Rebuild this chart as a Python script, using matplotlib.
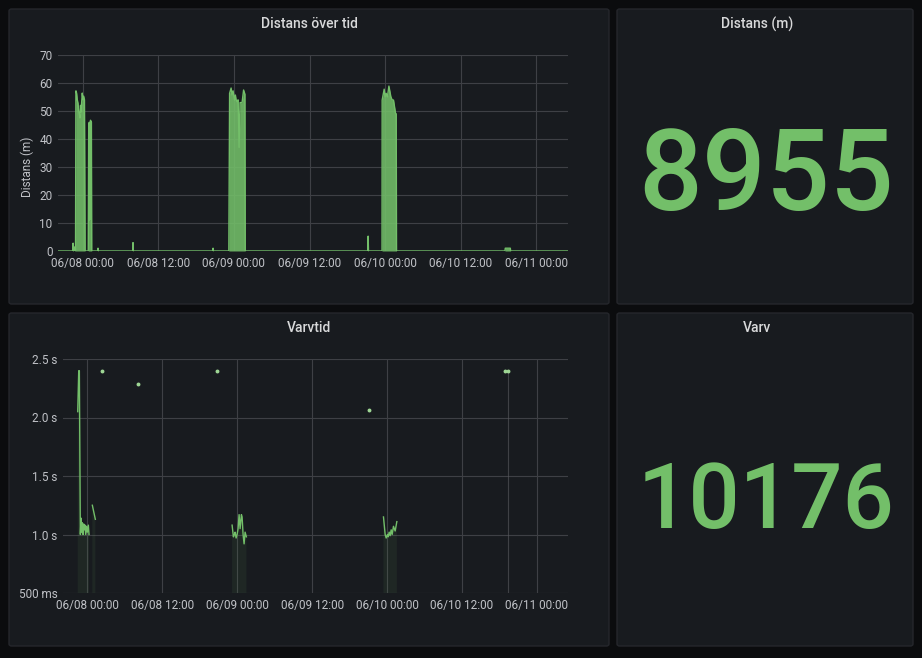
import numpy as np
import matplotlib
matplotlib.use('Agg')
import matplotlib.pyplot as plt
import matplotlib.dates as mdates
from matplotlib.patches import FancyBboxPatch
import datetime as dt

plt.rcParams['font.family'] = ['Roboto', 'DejaVu Sans']

W, H = 922, 658

# ---- data (hours relative to 06/08 00:00) ----
dist_hours = [-3.9, -1.56, -1.50, -1.44, -1.25, -1.20, -1.12,
              -1.06, -0.95, -0.84, -0.73, -0.62, -0.52, -0.41, -0.33, -0.25, -0.15,
              -0.05, 0.06, 0.17, 0.30, 0.40,
              0.90, 0.97, 1.07, 1.12, 1.20, 1.25, 1.40, 1.45,
              2.40, 2.45, 2.50, 7.95, 8.00, 8.05, 20.65, 20.70, 20.75,
              23.20, 23.32, 23.56, 23.71, 23.87, 24.11, 24.24, 24.35, 24.51, 24.67,
              24.83, 24.98, 25.14, 25.30, 25.54, 25.75, 25.80,
              45.25, 45.30, 45.35,
              47.50, 47.52, 47.84, 48.00, 48.16, 48.35, 48.59, 48.90, 49.10, 49.32,
              49.64, 49.75, 49.80,
              67.00, 67.05, 67.85, 67.90, 77.0]
dist_values = [0, 0, 2.8, 0, 0, 1.5, 0,
               57.2, 56.4, 54, 52.8, 50, 49, 47.5, 52, 49.6, 53,
               56.4, 54, 55.3, 54, 0,
               0, 45, 46, 11, 11, 46.7, 46, 0,
               0, 1, 0, 0, 3, 0, 0, 1, 0,
               0, 56.3, 58.2, 55.7, 57.2, 53.9, 55.7, 54, 53.3, 54,
               37, 53, 53, 53, 57.5, 56, 0,
               0, 5.3, 0,
               0, 53.9, 57.8, 55, 56.3, 55, 58.9, 55.1, 54, 53.9,
               49.2, 49, 0,
               0, 1.0, 1.0, 0, 0]

lap_hours = [-1.54, -1.38, -1.28, -1.12, -1.01, -0.90, -0.80, -0.69, -0.58, -0.48,
             -0.37, -0.26, -0.13, 0.0, 0.16, 0.27, 0.5,
             0.80, 1.28, 1.5,
             23.19, 23.40, 23.56, 23.67, 23.83, 23.99, 24.15, 24.31, 24.47, 24.68,
             24.79, 24.95, 25.11, 25.27, 25.48, 25.7,
             47.44, 47.71, 47.87, 48.08, 48.19, 48.35, 48.51, 48.67, 48.83, 49.04,
             49.31, 49.58]
lap_values = [2.05, 2.40, 2.40, 1.00, 1.14, 1.02, 1.10, 1.00, 1.09, 1.04,
              1.08, 1.00, 1.07, 1.02, 1.08, 1.00, np.nan,
              1.25, 1.13, np.nan,
              1.08, 0.98, 1.00, 1.02, 0.97, 1.00, 1.05, 1.17, 1.05, 1.17,
              1.15, 1.00, 0.92, 1.02, 0.98, np.nan,
              1.15, 1.00, 0.97, 1.00, 0.98, 1.02, 0.99, 1.04, 1.00, 1.07,
              1.03, 1.11]

dot_hours = [2.36, 8.08, 20.79, 45.10, 66.90, 67.40]
dot_values = [2.40, 2.29, 2.40, 2.06, 2.40, 2.40]

stat_distance = '8955'
stat_laps = '10176'

x_ticks_fmt = '%m/%d %H:%M'
dist_yticks = [0, 10, 20, 30, 40, 50, 60, 70]
lap_yticks = [0.5, 1.0, 1.5, 2.0, 2.5]
lap_ylabels = ['500 ms', '1.0 s', '1.5 s', '2.0 s', '2.5 s']

# ---- style ----
BG = '#0b0c0e'
PANEL = '#181b1f'
BORDER = '#25272c'
GRID = '#3e4045'
TXT = '#c0c2c7'
TITLE = '#d8d9da'
GREEN = '#73bf69'

base = mdates.date2num(dt.datetime(2021, 6, 8))
to_num = lambda hrs: base + np.asarray(hrs, dtype=float) / 24.0
xlim = (to_num(-3.9), to_num(77.0))


def fx(x):
    return x / W


def fy(y):
    return 1 - y / H


fig = plt.figure(figsize=(W / 100, H / 100), dpi=100)
fig.patch.set_facecolor(BG)

# panels (behind the axes)
for (x0, y0, x1, y1) in [(9, 9, 609, 304), (617, 9, 913, 304),
                         (9, 313, 609, 646), (617, 313, 913, 646)]:
    p = FancyBboxPatch((fx(x0), fy(y1)), fx(x1 - x0), (y1 - y0) / H,
                       boxstyle='round,pad=0,rounding_size=0.003',
                       transform=fig.transFigure, facecolor=PANEL,
                       edgecolor=BORDER, linewidth=1, zorder=-10)
    fig.add_artist(p)

# titles
fig.text(fx(309), fy(24), 'Distans över tid', color=TITLE, fontsize=10,
         fontweight='medium', ha='center', va='center')
fig.text(fx(757), fy(24), 'Distans (m)', color=TITLE, fontsize=10,
         fontweight='medium', ha='center', va='center')
fig.text(fx(309), fy(328), 'Varvtid', color=TITLE, fontsize=10,
         fontweight='medium', ha='center', va='center')
fig.text(fx(757), fy(328), 'Varv', color=TITLE, fontsize=10,
         fontweight='medium', ha='center', va='center')

# stat numbers
fig.text(fx(766), fy(179), stat_distance, color=GREEN, fontsize=81,
         fontweight='medium', ha='center', va='center')
fig.text(fx(766), fy(503), stat_laps, color=GREEN, fontsize=65,
         fontweight='medium', ha='center', va='center')


def style_axes(ax):
    ax.set_facecolor('none')
    for s in ax.spines.values():
        s.set_visible(False)
    ax.grid(True, color=GRID, linewidth=0.8)
    ax.set_axisbelow(True)
    ax.tick_params(colors=TXT, labelsize=8.5, length=0, pad=4)
    ax.set_xlim(*xlim)
    ax.xaxis.set_major_locator(mdates.HourLocator(byhour=[0, 12]))
    ax.xaxis.set_major_formatter(mdates.DateFormatter(x_ticks_fmt))


# distance chart
ax1 = fig.add_axes([fx(58), fy(251), 510 / W, 196 / H])
style_axes(ax1)
t = to_num(dist_hours)
ax1.fill_between(t, dist_values, 0, color=GREEN, alpha=0.88, linewidth=0)
ax1.plot(t, dist_values, color=GREEN, linewidth=1)
ax1.set_ylim(0, 70)
ax1.set_yticks(dist_yticks)
fig.text(fx(27), fy(167), 'Distans (m)', color=TXT, fontsize=8.5,
         rotation=90, ha='center', va='center')

# lap time chart
ax2 = fig.add_axes([fx(63), fy(593), 505 / W, 234 / H])
style_axes(ax2)
t2 = to_num(lap_hours)
ax2.fill_between(t2, lap_values, 0, color=GREEN, alpha=0.08, linewidth=0)
ax2.plot(t2, lap_values, color=GREEN, linewidth=1)
td = to_num(dot_hours)
ax2.vlines(td[-1], 0.5, dot_values[-1], color='#5a5c60', linewidth=0.8, alpha=0.6)
ax2.plot(td, dot_values, linestyle='none', marker='o', markersize=1.8,
         color='#9ed694')
ax2.set_ylim(0.5, 2.5)
ax2.set_yticks(lap_yticks)
ax2.set_yticklabels(lap_ylabels)

fig.savefig('out.png', dpi=100, facecolor=BG)
